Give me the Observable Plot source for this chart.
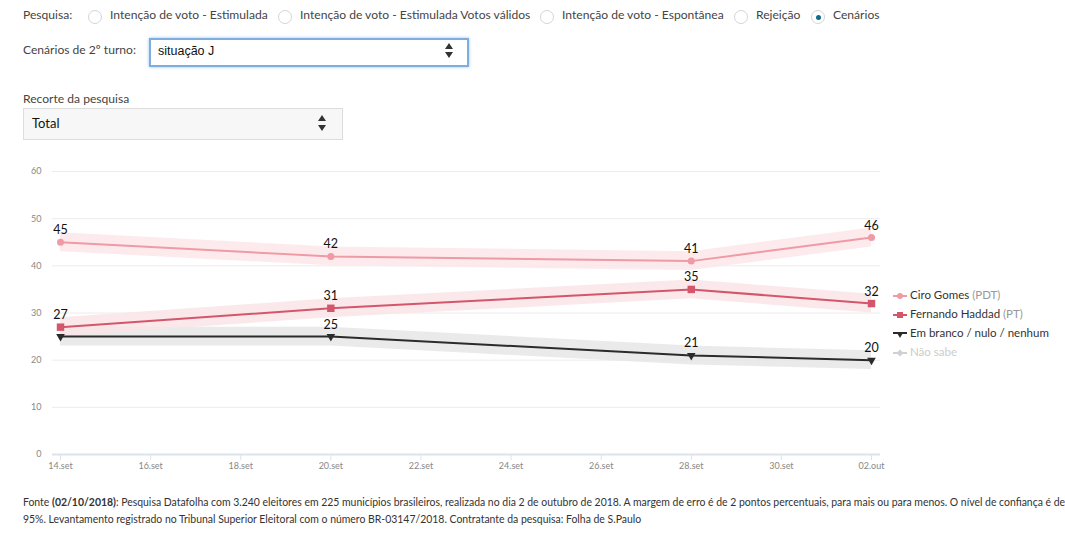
<!DOCTYPE html>
<html><head><meta charset="utf-8">
<script src="https://cdn.jsdelivr.net/npm/d3@7"></script>
<script src="https://cdn.jsdelivr.net/npm/@observablehq/plot@0.6"></script>
<style>
body{margin:0;background:#fff;font-family:Lato,sans-serif;color:#333;width:1065px;height:533px;position:relative;overflow:hidden}
.abs{position:absolute;white-space:nowrap}
.lbl{font-size:12.1px;color:#444}
.radio{position:absolute;width:12px;height:12px;border:1px solid #d5d5d5;border-radius:50%;background:#fff}
.radio.on::after{content:"";position:absolute;left:3.5px;top:3.5px;width:5px;height:5px;border-radius:50%;background:#0c6e8c}
.sel{position:absolute;box-sizing:border-box}
.up,.dn{position:absolute;width:0;height:0;border-left:4px solid transparent;border-right:4px solid transparent}
.up{border-bottom:6px solid #333}
.dn{border-top:6px solid #333}
#chart{position:absolute;left:0;top:150px}
.leg{position:absolute;left:893px;font-size:11.5px;color:#333;white-space:nowrap}
.leg span.g{color:#999}
.leg svg{vertical-align:middle;margin-right:3px}
#foot{position:absolute;left:23px;top:494px;font-size:10.45px;line-height:17px;color:#333;white-space:nowrap}
</style></head>
<body>
<div class="abs lbl" style="left:23px;top:7px">Pesquisa:</div>
<div class="radio" style="left:88px;top:10px"></div>
<div class="abs lbl" style="left:110px;top:7px">Intenção de voto - Estimulada</div>
<div class="radio" style="left:278px;top:10px"></div>
<div class="abs lbl" style="left:300px;top:7px">Intenção de voto - Estimulada Votos válidos</div>
<div class="radio" style="left:540px;top:10px"></div>
<div class="abs lbl" style="left:562px;top:7px">Intenção de voto - Espontânea</div>
<div class="radio" style="left:734px;top:10px"></div>
<div class="abs lbl" style="left:756px;top:7px">Rejeição</div>
<div class="radio on" style="left:811px;top:10px"></div>
<div class="abs lbl" style="left:833px;top:7px">Cenários</div>

<div class="abs lbl" style="left:23px;top:42px">Cenários de 2º turno:</div>
<div class="sel" style="left:149px;top:38px;width:320px;height:29px;border:2px solid #7eaee0;box-shadow:0 0 3px #9cc3ea;background:#fff"></div>
<div class="abs" style="left:158px;top:44px;font-family:'Liberation Sans',Arial,sans-serif;font-size:12.5px;color:#111">situação J</div>
<div class="up" style="left:445px;top:43px"></div>
<div class="dn" style="left:445px;top:52px"></div>

<div class="abs lbl" style="left:23px;top:91px">Recorte da pesquisa</div>
<div class="sel" style="left:23px;top:108px;width:320px;height:32px;border:1px solid #ddd;background:#f7f7f7"></div>
<div class="abs" style="left:32px;top:115px;font-size:13px;color:#111">Total</div>
<div class="up" style="left:318px;top:115px"></div>
<div class="dn" style="left:318px;top:125px"></div>

<div id="chart"></div>

<div class="leg" style="top:288px"><svg width="14" height="10"><line x1="0" x2="14" y1="5" y2="5" stroke="#f09aa5" stroke-width="2"/><circle cx="7" cy="5" r="3" fill="#f09aa5"/></svg>Ciro Gomes <span class="g">(PDT)</span></div>
<div class="leg" style="top:307px"><svg width="14" height="10"><line x1="0" x2="14" y1="5" y2="5" stroke="#d4566b" stroke-width="2"/><rect x="4" y="2" width="6" height="6" fill="#d4566b"/></svg>Fernando Haddad <span class="g">(PT)</span></div>
<div class="leg" style="top:326px"><svg width="14" height="10"><line x1="0" x2="14" y1="4" y2="4" stroke="#2b2b2b" stroke-width="2"/><path d="M3.5,3 L10.5,3 L7,9 Z" fill="#2b2b2b"/></svg>Em branco / nulo / nenhum</div>
<div class="leg" style="top:345px;color:#ccc"><svg width="14" height="10"><line x1="0" x2="14" y1="5" y2="5" stroke="#d0d0d0" stroke-width="2"/><path d="M7,1.5 L10.5,5 L7,8.5 L3.5,5 Z" fill="#d0d0d0"/></svg>Não sabe</div>

<div id="foot">Fonte <b>(02/10/2018)</b>: Pesquisa Datafolha com 3.240 eleitores em 225 municípios brasileiros, realizada no dia 2 de outubro de 2018. A margem de erro é de 2 pontos percentuais, para mais ou para menos. O nível de confiança é de<br>95%. Levantamento registrado no Tribunal Superior Eleitoral com o número BR-03147/2018. Contratante da pesquisa: Folha de S.Paulo</div>

<script>
const dates = ["2018-09-14","2018-09-20","2018-09-28","2018-10-02"];
const ciro = [45, 42, 41, 46];
const haddad = [27, 31, 35, 32];
const branco = [25, 25, 21, 20];
// value labels shown in the reference (the first "Em branco" label is hidden there)
const showCiro = [true, true, true, true];
const showHaddad = [true, true, true, true];
const showBranco = [false, true, true, true];
const margin = 2;
const tickDates = ["2018-09-14","2018-09-16","2018-09-18","2018-09-20","2018-09-22","2018-09-24","2018-09-26","2018-09-28","2018-09-30","2018-10-02"];
const tickLabels = ["14.set","16.set","18.set","20.set","22.set","24.set","26.set","28.set","30.set","02.out"];
const yTicks = [0,10,20,30,40,50,60];

const seriesDefs = [
  {name:"Ciro Gomes (PDT)", values:ciro, show:showCiro, color:"#f09aa5", band:"#fde6ea", symbol:"circle", r:3.5, rotate:0},
  {name:"Fernando Haddad (PT)", values:haddad, show:showHaddad, color:"#d4566b", band:"#f9e4e7", symbol:"square", r:4.2, rotate:0},
  {name:"Em branco / nulo / nenhum", values:branco, show:showBranco, color:"#2b2b2b", band:"#e6e6e6", symbol:"triangle", r:3.2, rotate:180}
];
const parse = d3.utcParse("%Y-%m-%d");
const rows = s => dates.map((d,i)=>({date:parse(d), v:s.values[i], show:s.show[i]}));
const tickMap = new Map(tickDates.map((d,i)=>[+parse(d), tickLabels[i]]));

const marks = [
  Plot.ruleY(yTicks.filter(t=>t>0), {stroke:"#ececec", strokeWidth:1}),
  Plot.ruleY([0], {stroke:"#dde3ea", strokeWidth:2})
];
for (const s of [seriesDefs[2], seriesDefs[1], seriesDefs[0]]) {
  marks.push(Plot.areaY(rows(s), {x:"date", y1:d=>d.v-margin, y2:d=>d.v+margin, fill:s.band, fillOpacity:0.85}));
}
for (const s of seriesDefs) {
  marks.push(Plot.line(rows(s), {x:"date", y:"v", stroke:s.color, strokeWidth:2}));
  marks.push(Plot.dot(rows(s), {x:"date", y:"v", fill:s.color, symbol:()=>s.symbol, r:s.r, rotate:s.rotate}));
  marks.push(Plot.text(rows(s).filter(d=>d.show), {x:"date", y:"v", text:d=>String(d.v), dy:-12, fill:"#111", fontSize:12.5}));
}

const chart = Plot.plot({
  width:1065, height:330,
  marginTop:21, marginBottom:26, marginLeft:52, marginRight:185,
  style:{fontFamily:"Lato,sans-serif", overflow:"visible"},
  x:{type:"utc", domain:[parse(dates[0]), parse(dates[3])], insetLeft:8, insetRight:9, label:null},
  y:{domain:[0,60], label:null},
  marks:[
    ...marks,
    Plot.axisX({ticks:tickDates.map(parse), tickFormat:d=>tickMap.get(+d), tickSize:6, tickPadding:2, stroke:"#dde3ea", fill:"#888", fontSize:9, label:null}),
    Plot.axisY({ticks:yTicks, tickSize:0, tickPadding:11, fill:"#888", fontSize:9, label:null})
  ]
});
document.getElementById("chart").appendChild(chart);
</script>
</body></html>
